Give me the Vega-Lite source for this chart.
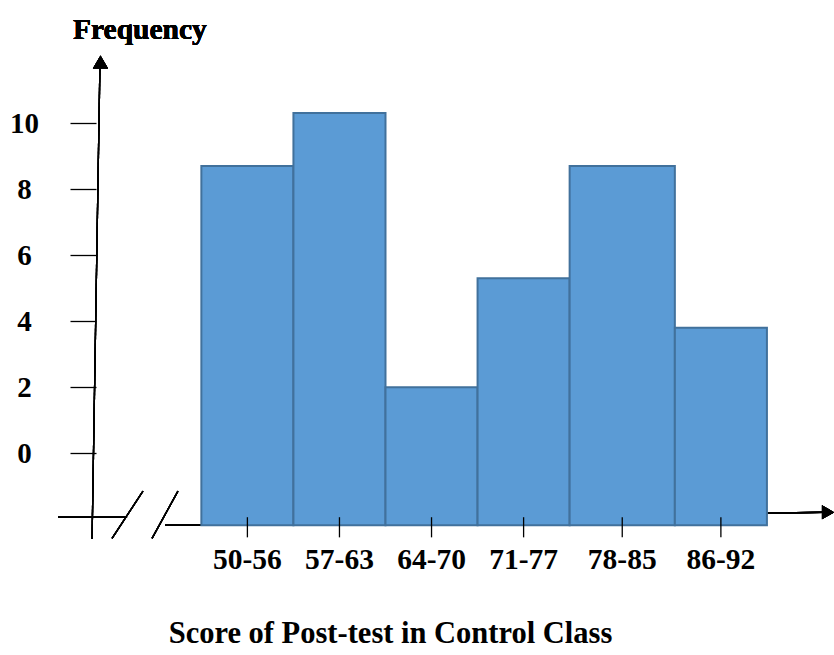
{
  "$schema": "https://vega.github.io/schema/vega-lite/v6.json",
  "width": 776,
  "height": 482,
  "autosize": "none",
  "padding": {"left": 58, "top": 57, "right": 0, "bottom": 116},
  "background": "white",
  "config": {"view": {"stroke": null}},
  "data": {
    "values": [
      {"range": "50-56", "lo": 49.5, "hi": 56.5, "mid": 53, "freq": 8.7},
      {"range": "57-63", "lo": 56.5, "hi": 63.5, "mid": 60, "freq": 10.3},
      {"range": "64-70", "lo": 63.5, "hi": 70.5, "mid": 67, "freq": 2.0},
      {"range": "71-77", "lo": 70.5, "hi": 77.5, "mid": 74, "freq": 5.3},
      {"range": "78-85", "lo": 77.5, "hi": 85.5, "mid": 81.5, "freq": 8.7},
      {"range": "86-92", "lo": 85.5, "hi": 92.5, "mid": 89, "freq": 3.8}
    ]
  },
  "layer": [
    {
      "mark": {"type": "rule", "color": "black", "strokeWidth": 1.3},
      "encoding": {
        "x": {"datum": 41.19, "type": "quantitative"},
        "x2": {"datum": 41.79},
        "y": {"datum": -2.6, "type": "quantitative"},
        "y2": {"datum": 11.8}
      }
    },
    {
      "mark": {"type": "point", "shape": "triangle-up", "filled": true, "color": "black", "size": 230, "opacity": 1},
      "encoding": {
        "x": {"datum": 41.83, "type": "quantitative"},
        "y": {"datum": 11.85, "type": "quantitative"}
      }
    },
    {
      "mark": {"type": "rule", "color": "black", "strokeWidth": 1.3},
      "encoding": {
        "x": {"datum": 38.6, "type": "quantitative"},
        "x2": {"datum": 43.85},
        "y": {"datum": -1.94, "type": "quantitative"}
      }
    },
    {
      "mark": {"type": "rule", "color": "black", "strokeWidth": 1.3},
      "encoding": {
        "x": {"datum": 46.74, "type": "quantitative"},
        "x2": {"datum": 49.5},
        "y": {"datum": -2.18, "type": "quantitative"}
      }
    },
    {
      "mark": {"type": "rule", "color": "black", "strokeWidth": 1.3},
      "encoding": {
        "x": {"datum": 92.5, "type": "quantitative"},
        "x2": {"datum": 96.9},
        "y": {"datum": -1.82, "type": "quantitative"},
        "y2": {"datum": -1.79}
      }
    },
    {
      "mark": {"type": "point", "shape": "triangle-right", "filled": true, "color": "black", "size": 200, "opacity": 1},
      "encoding": {
        "x": {"datum": 97.15, "type": "quantitative"},
        "y": {"datum": -1.79, "type": "quantitative"}
      }
    },
    {
      "mark": {"type": "rule", "color": "black", "strokeWidth": 1.3},
      "encoding": {
        "x": {"datum": 42.71, "type": "quantitative"},
        "x2": {"datum": 45.06},
        "y": {"datum": -2.58, "type": "quantitative"},
        "y2": {"datum": -1.15}
      }
    },
    {
      "mark": {"type": "rule", "color": "black", "strokeWidth": 1.3},
      "encoding": {
        "x": {"datum": 45.75, "type": "quantitative"},
        "x2": {"datum": 47.72},
        "y": {"datum": -2.58, "type": "quantitative"},
        "y2": {"datum": -1.15}
      }
    },
    {
      "mark": {"type": "bar", "fill": "#5B9BD5", "stroke": "#41719C", "strokeWidth": 2},
      "encoding": {
        "x": {
          "field": "lo",
          "type": "quantitative",
          "scale": {"domain": [38.6, 97.6], "nice": false, "zero": false},
          "axis": {
            "domain": false,
            "ticks": false,
            "labels": false,
            "grid": false,
            "title": "Score of Post-test in Control Class",
            "titleX": 332,
            "titleY": 94,
            "titleAlign": "center",
            "titleBaseline": "middle",
            "titleFont": "Liberation Serif",
            "titleFontSize": 30.5,
            "titleFontWeight": "bold",
            "titleColor": "black"
          }
        },
        "x2": {"field": "hi"},
        "y": {
          "field": "freq",
          "type": "quantitative",
          "scale": {"domain": [-2.6, 12], "nice": false, "zero": false},
          "axis": {
            "values": [0, 2, 4, 6, 8, 10],
            "domain": false,
            "grid": false,
            "ticks": true,
            "tickSize": 26,
            "tickColor": "black",
            "tickWidth": 1.3,
            "offset": -38,
            "labelAlign": "center",
            "labelBaseline": "middle",
            "labelPadding": 46,
            "labelFont": "Liberation Serif",
            "labelFontSize": 29,
            "labelFontWeight": "bold",
            "labelColor": "black",
            "title": null
          }
        },
        "y2": {"datum": -2.18}
      }
    },
    {
      "mark": {"type": "rule", "color": "black", "strokeWidth": 1.3},
      "encoding": {
        "x": {"field": "mid", "type": "quantitative"},
        "y": {"datum": -1.94, "type": "quantitative"},
        "y2": {"datum": -2.55}
      }
    },
    {
      "mark": {"type": "text", "font": "Liberation Serif", "fontSize": 29.5, "fontWeight": "bold", "color": "black", "align": "center", "baseline": "middle"},
      "encoding": {
        "x": {"field": "mid", "type": "quantitative"},
        "y": {"datum": -3.24, "type": "quantitative"},
        "text": {"field": "range"}
      }
    },
    {
      "mark": {"type": "text", "font": "Liberation Serif", "fontSize": 29.5, "fontWeight": "bold", "color": "black", "align": "center", "baseline": "middle"},
      "encoding": {
        "x": {"datum": 44.83, "type": "quantitative"},
        "y": {"datum": 12.82, "type": "quantitative"},
        "text": {"value": "Frequency"}
      }
    }
  ]
}
